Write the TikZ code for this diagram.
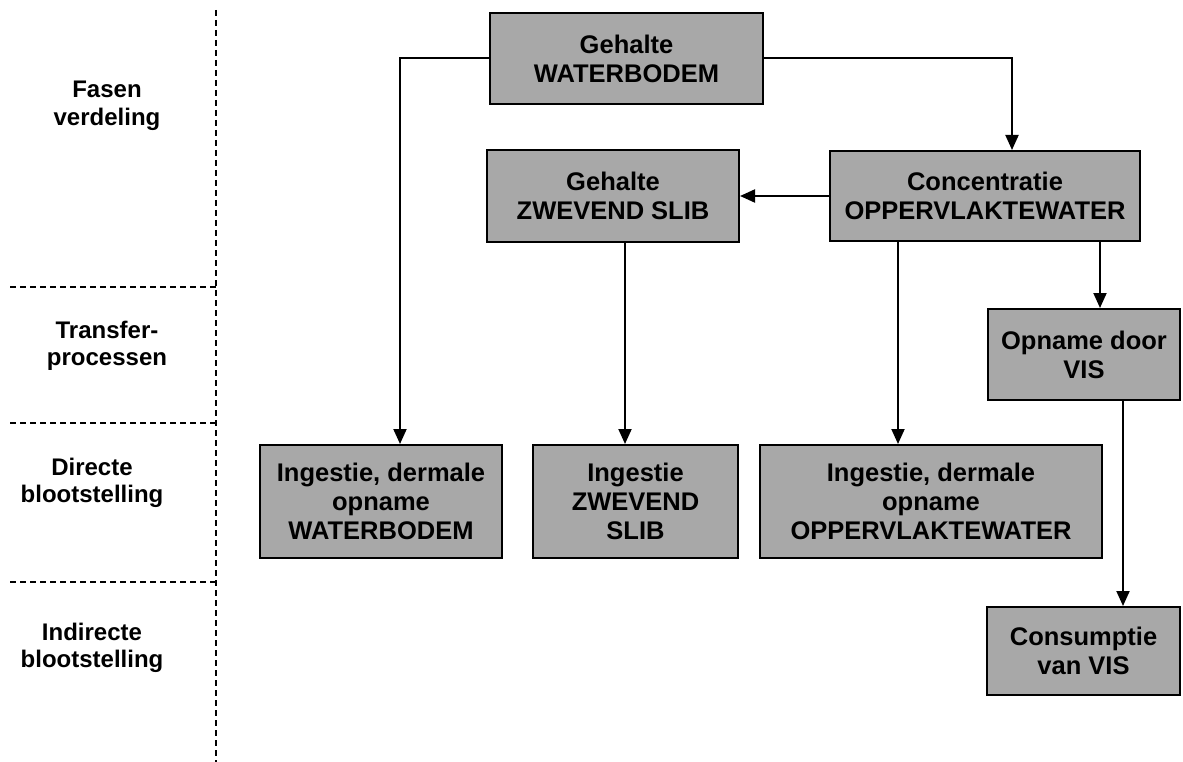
\documentclass[tikz,border=0pt]{standalone}
\usepackage{fontspec}
\setmainfont{Liberation Sans}
\usetikzlibrary{arrows.meta}
\definecolor{boxgray}{RGB}{168,168,168}
\begin{document}
\begin{tikzpicture}[x=1pt,y=-1pt,
  box/.style={draw=black, line width=2pt, fill=boxgray, align=center,
    font=\bfseries\fontsize{25.5}{29}\selectfont, inner sep=0pt},
  lbl/.style={align=center, font=\bfseries\fontsize{24}{27.5}\selectfont},
  arr/.style={line width=2pt, -{Triangle[length=15pt,width=13pt]}},
  sep/.style={line width=2pt, dash pattern=on 6pt off 4pt}]
\useasboundingbox (0,0) rectangle (1183,762);

% phase separators
\coordinate (vtop) at (216,10);
\coordinate (vbot) at (216,762);
\draw[sep] (vtop) -- (vbot);
\foreach \yy in {287,423,582}
  \draw[sep] (10,\yy) -- (216,\yy);

% phase labels
\node[lbl] (l1) at (107,106) {Fasen\\verdeling};
\node[lbl] (l2) at (107,346) {Transfer-\\processen};
\node[lbl] (l3) at (92,483) {Directe\\blootstelling};
\node[lbl] (l4) at (92,648) {Indirecte\\blootstelling};

% boxes
\node[box, minimum width=273pt, minimum height=91pt] (wb) at (626.5,58.5) {Gehalte\\WATERBODEM};
\node[box, minimum width=252pt, minimum height=92pt] (zs) at (613,196) {Gehalte\\ZWEVEND SLIB};
\node[box, minimum width=310pt, minimum height=90pt] (conc) at (985,196) {Concentratie\\OPPERVLAKTEWATER};
\node[box, minimum width=192pt, minimum height=91pt] (opn) at (1084,354.5) {Opname door\\VIS};
\node[box, minimum width=242pt, minimum height=113pt] (iwb) at (381,501.5) {Ingestie, dermale\\opname\\WATERBODEM};
\node[box, minimum width=205pt, minimum height=113pt] (izs) at (635.5,501.5) {Ingestie\\ZWEVEND\\SLIB};
\node[box, minimum width=342pt, minimum height=113pt] (iow) at (931,501.5) {Ingestie, dermale\\opname\\OPPERVLAKTEWATER};
\node[box, minimum width=193pt, minimum height=88pt] (cons) at (1083.5,651) {Consumptie\\van VIS};

% x positions of the vertical connectors
\coordinate (xa) at (400,0);
\coordinate (xb) at (1012,0);
\coordinate (xc) at (625,0);
\coordinate (xd) at (898,0);
\coordinate (xe) at (1100,0);
\coordinate (xf) at (1123,0);

% connectors
\draw[arr] (wb.west) -| (xa |- iwb.north);
\draw[arr] (wb.east) -| (xb |- conc.north);
\draw[arr] (conc.west) -- (zs.east);
\draw[arr] (zs.south -| xc) -- (izs.north -| xc);
\draw[arr] (conc.south -| xd) -- (iow.north -| xd);
\draw[arr] (conc.south -| xe) -- (opn.north -| xe);
\draw[arr] (opn.south -| xf) -- (cons.north -| xf);
\end{tikzpicture}
\end{document}
